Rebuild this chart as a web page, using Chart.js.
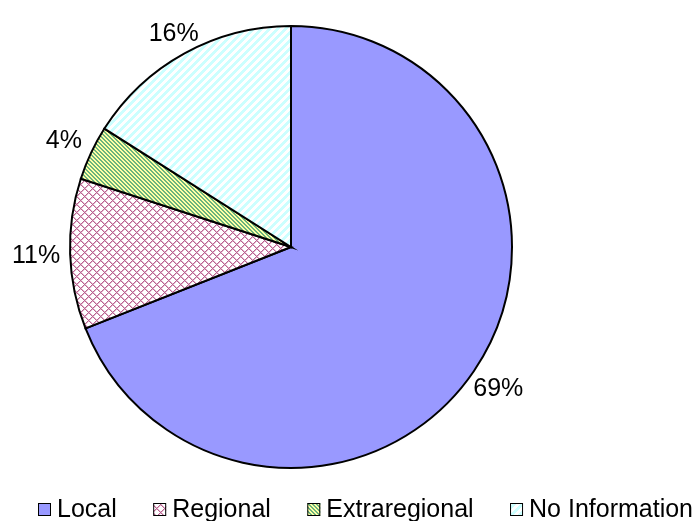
<!DOCTYPE html>
<html>
<head>
<meta charset="utf-8">
<script src="https://cdn.jsdelivr.net/npm/chart.js@4.4.0/dist/chart.umd.min.js"></script>
<style>
  body { margin: 0; background: #fff; }
  #wrap { width: 700px; height: 521px; position: relative; }
</style>
</head>
<body>
<div id="wrap"><canvas id="pieChart"></canvas></div>
<script>
const categories = ["Local", "Regional", "Extraregional", "No Information"];
const shares = [69, 11, 4, 16];

const FONT = "25px 'Liberation Sans', Arial, sans-serif";

// small tiles for the Excel-like fill patterns
function makePattern(size, fn) {
  const c = document.createElement("canvas");
  c.width = size;
  c.height = size;
  const g = c.getContext("2d");
  for (let x = 0; x < size; x++) {
    for (let y = 0; y < size; y++) {
      g.fillStyle = fn(x, y);
      g.fillRect(x, y, 1, 1);
    }
  }
  return g.createPattern(c, "repeat");
}

const crossHatch = makePattern(8, (x, y) => {
  const a = (x + y) % 8;
  const b = (x - y + 8) % 8;
  if (a === 0 || b === 0) return "#b9628f";
  if (a === 1 || b === 1) return "#e3b8cf";
  return "#ffffff";
});
const greenStripes = makePattern(4, (x, y) =>
  (x - y + 8) % 4 < 2 ? "#6cb47e" : "#ffffa6"
);
const cyanStripes = makePattern(8, (x, y) =>
  (x + y) % 8 < 4 ? "#ccffff" : "#ffffff"
);

const fills = ["#9999ff", crossHatch, greenStripes, cyanStripes];

// percent labels outside each slice
const outsideLabels = {
  id: "outsideLabels",
  afterDatasetsDraw(chart) {
    const ctx = chart.ctx;
    const meta = chart.getDatasetMeta(0);
    ctx.save();
    ctx.font = FONT;
    ctx.fillStyle = "#000";
    ctx.textAlign = "center";
    ctx.textBaseline = "middle";
    meta.data.forEach((arc, i) => {
      const mid = (arc.startAngle + arc.endAngle) / 2;
      const ux = Math.cos(mid);
      const uy = Math.sin(mid);
      const text = shares[i] + "%";
      const w = ctx.measureText(text).width;
      const h = 22;
      const fitX = Math.abs(ux) > 0.01 ? w / 2 / Math.abs(ux) : 1e9;
      const fitY = Math.abs(uy) > 0.01 ? h / 2 / Math.abs(uy) : 1e9;
      const d = arc.outerRadius + 10 + Math.min(fitX, fitY);
      ctx.fillText(text, arc.x + ux * d, arc.y + uy * d + 1);
    });
    ctx.restore();
  },
};

// legend row along the bottom
const bottomLegend = {
  id: "bottomLegend",
  afterDraw(chart) {
    const ctx = chart.ctx;
    ctx.save();
    ctx.font = FONT;
    const box = 13;
    const gapText = 6;
    const left = 38;
    const right = 693;
    const widths = categories.map((c) => box + gapText + ctx.measureText(c).width);
    const total = widths.reduce((a, b) => a + b, 0);
    const gap = (right - left - total) / (categories.length - 1);
    let x = left;
    const baseY = 517;
    categories.forEach((c, i) => {
      ctx.fillStyle = fills[i];
      ctx.fillRect(x, baseY - 14, box, box);
      ctx.strokeStyle = "#000";
      ctx.lineWidth = 1;
      ctx.strokeRect(x + 0.5, baseY - 13.5, box - 1, box - 1);
      ctx.fillStyle = "#000";
      ctx.textBaseline = "alphabetic";
      ctx.fillText(c, x + box + gapText, baseY);
      x += widths[i] + gap;
    });
    ctx.restore();
  },
};

new Chart(document.getElementById("pieChart"), {
  type: "pie",
  data: {
    labels: categories,
    datasets: [
      {
        data: shares,
        backgroundColor: fills,
        borderColor: "#000",
        borderWidth: 2,
        borderJoinStyle: "miter",
      },
    ],
  },
  options: {
    responsive: true,
    maintainAspectRatio: false,
    animation: false,
    events: [],
    layout: {
      padding: { left: 69, right: 187, top: 24, bottom: 51 },
    },
    plugins: {
      legend: { display: false },
      tooltip: { enabled: false },
    },
  },
  plugins: [outsideLabels, bottomLegend],
});
</script>
</body>
</html>
